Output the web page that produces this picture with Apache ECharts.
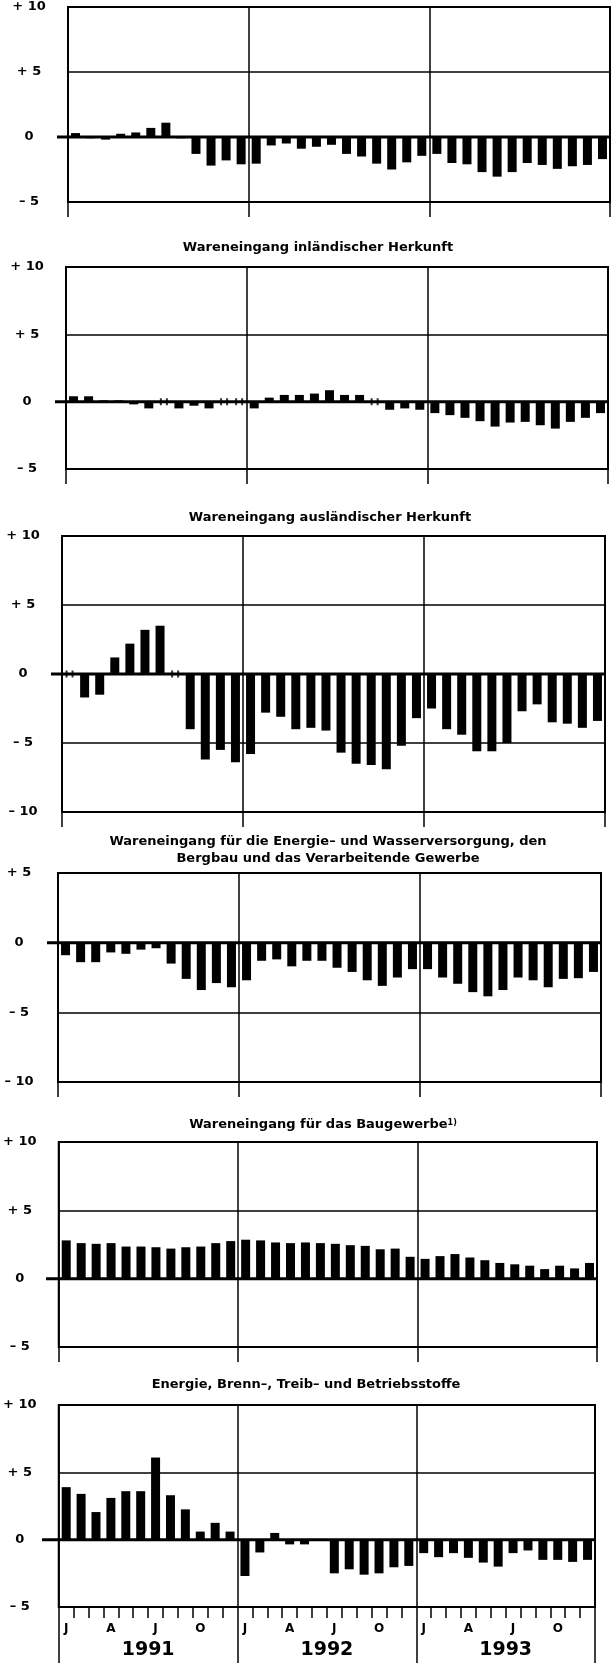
<!DOCTYPE html>
<html><head><meta charset="utf-8">
<script src="https://cdn.jsdelivr.net/npm/echarts@6/dist/echarts.min.js"></script>
<style>html,body{margin:0;padding:0;background:#fff}#c{width:612px;height:1663px}</style>
</head><body><div id="c"></div>
<script>
// ---------- data ----------
const years = ['1991', '1992', '1993'];
const monthNames = ['Jan','Feb','Mär','Apr','Mai','Jun','Jul','Aug','Sep','Okt','Nov','Dez'];
const monthTickLabels = ['J', '', '', 'A', '', '', 'J', '', '', 'O', '', ''];
const categories = years.flatMap(y => monthNames.map(m => m + ' ' + y));

const gesamt = [
  0.3, -0.1, -0.2, 0.25, 0.35, 0.7, 1.1, -0.1, -1.3, -2.2, -1.8, -2.1,
  -2.05, -0.65, -0.5, -0.9, -0.75, -0.6, -1.3, -1.5, -2.05, -2.5, -1.95, -1.45,
  -1.3, -2.0, -2.1, -2.7, -3.05, -2.7, -2.0, -2.15, -2.45, -2.25, -2.15, -1.7
];
const inland = [
  0.4, 0.4, 0.1, 0.1, -0.2, -0.5, 0, -0.5, -0.3, -0.5, 0, 0,
  -0.5, 0.3, 0.5, 0.5, 0.6, 0.85, 0.5, 0.5, 0, -0.6, -0.5, -0.6,
  -0.85, -1.0, -1.2, -1.45, -1.85, -1.55, -1.5, -1.75, -2.0, -1.5, -1.2, -0.85
];
const ausland = [
  0, -1.7, -1.5, 1.2, 2.2, 3.2, 3.5, 0, -4.0, -6.2, -5.5, -6.4,
  -5.8, -2.8, -3.1, -4.0, -3.9, -4.1, -5.7, -6.5, -6.6, -6.9, -5.2, -3.2,
  -2.5, -4.0, -4.4, -5.6, -5.6, -5.0, -2.7, -2.2, -3.5, -3.6, -3.9, -3.4
];
const energieWasser = [
  -0.9, -1.4, -1.4, -0.7, -0.8, -0.5, -0.4, -1.5, -2.6, -3.4, -2.9, -3.2,
  -2.7, -1.3, -1.2, -1.7, -1.3, -1.3, -1.8, -2.1, -2.7, -3.1, -2.5, -1.9,
  -1.9, -2.5, -2.95, -3.55, -3.85, -3.4, -2.5, -2.7, -3.2, -2.6, -2.55, -2.1
];
const baugewerbe = [
  2.8, 2.6, 2.55, 2.6, 2.35, 2.35, 2.3, 2.2, 2.3, 2.35, 2.6, 2.75,
  2.85, 2.8, 2.65, 2.6, 2.65, 2.6, 2.55, 2.45, 2.4, 2.15, 2.2, 1.6,
  1.45, 1.65, 1.8, 1.55, 1.35, 1.15, 1.05, 0.95, 0.7, 0.95, 0.75, 1.15
];
const energieStoffe = [
  3.9, 3.4, 2.05, 3.1, 3.6, 3.6, 6.1, 3.3, 2.25, 0.6, 1.25, 0.6,
  -2.7, -0.95, 0.5, -0.35, -0.35, -0.1, -2.5, -2.2, -2.6, -2.5, -2.05, -1.95,
  -1.0, -1.3, -1.0, -1.35, -1.7, -2.0, -1.0, -0.8, -1.5, -1.5, -1.65, -1.5
];

const seriesValues = [gesamt, inland, ausland, energieWasser, baugewerbe, energieStoffe];
const yMin = [-5, -5, -10, -10, -5, -5];
const yMax = [10, 10, 10, 5, 10, 10];
const titles = [
  '',
  'Wareneingang inländischer Herkunft',
  'Wareneingang ausländischer Herkunft',
  'Wareneingang für die Energie– und Wasserversorgung, den\nBergbau und das Verarbeitende Gewerbe',
  'Wareneingang für das Baugewerbe',
  'Energie, Brenn–, Treib– und Betriebsstoffe'
];
const footnoteMark = '1)';

// ---------- layout (pixels) ----------
const layout = [
  {top: 7,    bottom: 202,  left: 68, right: 610, tx: 0,   ty: 0},
  {top: 267,  bottom: 469,  left: 66, right: 608, tx: 318, ty: 248},
  {top: 536,  bottom: 812,  left: 62, right: 605, tx: 330, ty: 518},
  {top: 873,  bottom: 1082, left: 58, right: 601, tx: 328, ty: 850},
  {top: 1142, bottom: 1347, left: 57, right: 597, tx: 323, ty: 1125},
  {top: 1405, bottom: 1607, left: 53, right: 595, tx: 306, ty: 1385}
];
const FONT = 'DejaVu Sans';
const INK = '#000';

const grids = [], xAxes = [], yAxes = [], series = [];
layout.forEach((L, k) => {
  const last = k === layout.length - 1;
  grids.push({
    left: L.left, top: L.top, width: L.right - L.left, height: L.bottom - L.top,
    show: true, borderColor: INK, borderWidth: 2, backgroundColor: 'transparent'
  });
  // month axis (bars)
  xAxes.push({
    type: 'category', gridIndex: k, data: categories, position: 'bottom',
    axisLine: {show: false, onZero: false},
    axisTick: {show: last, interval: 0, length: 11, lineStyle: {color: INK, width: 1.5}},
    axisLabel: {
      show: last, interval: 0, margin: 16,
      formatter: (v, i) => monthTickLabels[i % 12],
      fontFamily: FONT, fontWeight: 'bold', fontSize: 12, color: INK
    },
    splitLine: {show: false}
  });
  // year axis (year boundaries, dividers, year labels)
  xAxes.push({
    type: 'category', gridIndex: k, data: years, position: 'bottom',
    axisLine: {show: false, onZero: false},
    axisTick: {show: true, length: last ? 56 : 15, lineStyle: {color: INK, width: 1.5}},
    axisLabel: {show: last, margin: 34, fontFamily: FONT, fontWeight: 'bold', fontSize: 19, color: INK},
    splitLine: {show: true, lineStyle: {color: INK, width: 1.5}}
  });
  yAxes.push({
    type: 'value', gridIndex: k, min: yMin[k], max: yMax[k], interval: 5,
    axisLine: {show: false}, axisTick: {show: false},
    splitLine: {show: true, lineStyle: {color: INK, width: 1.5}},
    axisLabel: {
      margin: 39, align: 'center',
      formatter: v => v > 0 ? '+ ' + v : (v < 0 ? '– ' + (-v) : '0'),
      fontFamily: FONT, fontWeight: 'bold', fontSize: 13, color: INK
    }
  });
  series.push({
    type: 'bar', xAxisIndex: 2 * k, yAxisIndex: k, data: seriesValues[k],
    barWidth: 9, itemStyle: {color: INK}, silent: true
  });
  const zeros = seriesValues[k].map((v, i) => v === 0 ? [i, 0] : null).filter(Boolean);
  if (zeros.length) {
    series.push({
      type: 'scatter', xAxisIndex: 2 * k, yAxisIndex: k, data: zeros,
      symbol: 'path://M0,0h2v7h-2z M6,0h2v7h-2z', symbolSize: [8, 7],
      itemStyle: {color: INK}, silent: true, z: 5
    });
  }
});

const chart = echarts.init(document.getElementById('c'), null, {width: 612, height: 1663});
chart.setOption({
  animation: false,
  backgroundColor: '#fff',
  grid: grids, xAxis: xAxes, yAxis: yAxes, series: series
});

const graphics = [];
layout.forEach((L, k) => {
  const y0 = chart.convertToPixel({yAxisIndex: k}, 0);
  graphics.push({
    type: 'line', z: 10, silent: true,
    shape: {x1: L.left - 11, y1: y0, x2: L.right, y2: y0},
    style: {stroke: INK, lineWidth: 3}
  });
  if (titles[k]) {
    const isFoot = k === 4;
    graphics.push({
      type: 'text', x: L.tx, y: L.ty, z: 10, silent: true,
      style: isFoot ? {
        text: '{a|' + titles[k] + '}{s|' + footnoteMark + '}',
        rich: {
          a: {fontFamily: FONT, fontWeight: 'bold', fontSize: 13, fill: INK},
          s: {fontFamily: FONT, fontWeight: 'bold', fontSize: 8, fill: INK, verticalAlign: 'top'}
        },
        textAlign: 'center', textVerticalAlign: 'middle'
      } : {
        text: titles[k], fill: INK, textAlign: 'center', textVerticalAlign: 'middle',
        font: 'bold 13px "' + FONT + '"', lineHeight: 17
      }
    });
  }
});
chart.setOption({graphic: graphics});
</script>
</body></html>
